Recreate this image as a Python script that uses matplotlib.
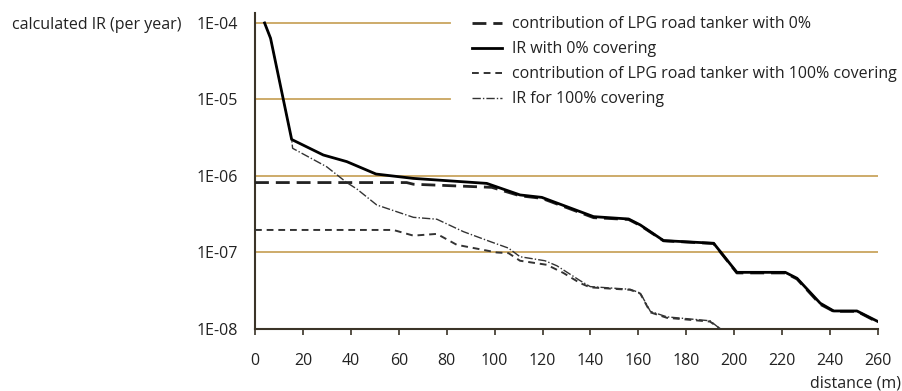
import matplotlib
matplotlib.use('Agg')
import matplotlib.pyplot as plt

plt.rcParams['font.family'] = ['Open Sans', 'DejaVu Sans']

# IR with 0% covering (solid)
ir0_x = [4, 6.5, 15.3, 28.5, 38.3, 50.5, 66, 96.7, 110.6, 119.7, 141.3, 155.9,
         160.8, 170.5, 191.4, 201.1, 221.3, 226.2, 235.9, 241.5, 251.2, 260]
ir0_y = [1e-4, 6.3e-5, 3.0e-6, 1.88e-6, 1.54e-6, 1.06e-6, 9.3e-7, 8.0e-7, 5.65e-7,
         5.25e-7, 2.94e-7, 2.74e-7, 2.29e-7, 1.43e-7, 1.32e-7, 5.5e-8, 5.5e-8,
         4.6e-8, 2.17e-8, 1.72e-8, 1.72e-8, 1.25e-8]

# contribution of LPG road tanker with 0% (long dash)
lpg0_x = [0, 63.3, 66.1, 98.8, 110.6, 119.7, 141.3, 155.9, 160.8, 170.5, 191.4,
          201.1, 221.3, 226.2, 235.9, 241.5, 251.2, 260]
lpg0_y = [8.2e-7, 8.2e-7, 7.8e-7, 7.1e-7, 5.5e-7, 5.1e-7, 2.85e-7, 2.7e-7, 2.25e-7,
          1.42e-7, 1.31e-7, 5.4e-8, 5.4e-8, 4.5e-8, 2.1e-8, 1.7e-8, 1.7e-8, 1.22e-8]

# contribution of LPG road tanker with 100% covering (short dash)
lpg100_x = [0, 57.7, 66.1, 75.9, 84.2, 100.9, 105.8, 110.6, 121.8, 128.7, 135.7,
            139.9, 156.6, 160.8, 165, 171.9, 189.9, 194.2]
lpg100_y = [1.97e-7, 1.97e-7, 1.66e-7, 1.75e-7, 1.26e-7, 1.0e-7, 9.8e-8, 7.8e-8,
            6.9e-8, 5.4e-8, 3.98e-8, 3.5e-8, 3.25e-8, 2.9e-8, 1.65e-8, 1.4e-8,
            1.25e-8, 1.0e-8]

# IR for 100% covering (dash-dot)
ir100_x = [4, 6.5, 15.3, 15.7, 29.9, 38.3, 42.5, 50.8, 66.1, 75.9, 87, 98.1, 105.8,
           110.6, 121, 126, 135.7, 139.9, 156.6, 160.8, 165, 171.9, 189.9, 194.2]
ir100_y = [1e-4, 6.3e-5, 3.0e-6, 2.3e-6, 1.32e-6, 8.2e-7, 6.76e-7, 4.18e-7, 2.88e-7,
           2.72e-7, 1.87e-7, 1.39e-7, 1.14e-7, 8.8e-8, 7.8e-8, 6.7e-8, 4.28e-8,
           3.58e-8, 3.3e-8, 2.95e-8, 1.7e-8, 1.44e-8, 1.28e-8, 1.0e-8]

y_ticks = [1e-8, 1e-7, 1e-6, 1e-5, 1e-4]
y_labels = ['1E-08', '1E-07', '1E-06', '1E-05', '1E-04']
x_ticks = list(range(0, 261, 20))

grid_color = '#c9a55e'
axis_color = '#3b3428'
text_color = '#222222'
fs = 11.5

fig = plt.figure(figsize=(9.02, 3.91), dpi=100)
ax = fig.add_axes([0.2827, 0.1586, 0.6907, 0.8082])

# top gridlines stop where the legend starts
for t in y_ticks:
    xmax = 0.313 if t >= 1e-5 else 1.0
    ax.axhline(t, xmax=xmax, color=grid_color, lw=1.3, zorder=1)

ax.plot(lpg0_x, lpg0_y, color='#222222', lw=2.0, dashes=(5, 2.5), zorder=3,
        label='contribution of LPG road tanker with 0%')
ax.plot(ir0_x, ir0_y, color='black', lw=2.0, zorder=4, label='IR with 0% covering')
ax.plot(lpg100_x, lpg100_y, color='#333333', lw=1.4, dashes=(3.5, 2.5), zorder=3,
        label='contribution of LPG road tanker with 100% covering')
ax.plot(ir100_x, ir100_y, color='#333333', lw=1.0, dashes=(6, 1.5, 1, 1.5), zorder=3,
        label='IR for 100% covering')

ax.set_yscale('log')
ax.set_ylim(1e-8, 1.35e-4)
ax.set_xlim(0, 260)
ax.set_yticks(y_ticks)
ax.set_yticklabels(y_labels)
ax.minorticks_off()
ax.set_xticks(x_ticks)
ax.set_xticklabels([str(v) for v in x_ticks])

for s in ['top', 'right']:
    ax.spines[s].set_visible(False)
for s in ['left', 'bottom']:
    ax.spines[s].set_color(axis_color)
    ax.spines[s].set_linewidth(1.5)
    ax.spines[s].set_zorder(2)

ax.tick_params(axis='y', length=0, pad=12, labelsize=fs, labelcolor=text_color)
ax.tick_params(axis='x', length=4, width=1.2, color=axis_color, pad=13,
               labelsize=fs, labelcolor=text_color)

fig.text(0.013, 0.936, 'calculated IR (per year)', fontsize=fs, color=text_color,
         va='center', ha='left')
fig.text(0.999, 0.02, 'distance (m)', fontsize=fs, color=text_color,
         va='center', ha='right')

leg = ax.legend(loc='upper left', bbox_to_anchor=(472 / 902, 0.958),
                bbox_transform=fig.transFigure, fontsize=fs, frameon=False,
                handlelength=1.9, handletextpad=0.62, labelspacing=0.56,
                borderpad=0, borderaxespad=0)
for t in leg.get_texts():
    t.set_color(text_color)

fig.savefig('out.png', dpi=100)
